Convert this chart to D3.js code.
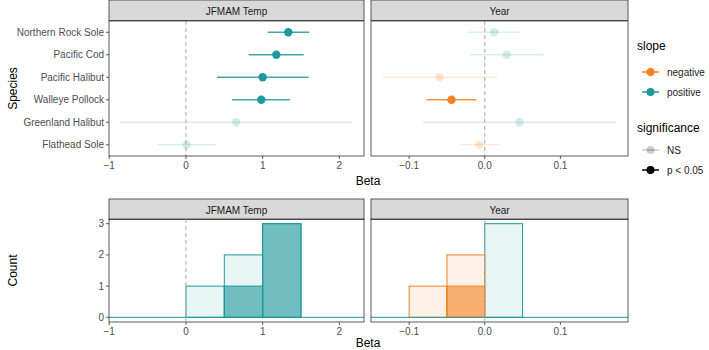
<!DOCTYPE html>
<html>
<head>
<meta charset="utf-8">
<script src="https://cdn.jsdelivr.net/npm/d3@7"></script>
<style>
  body { margin: 0; background: #fff; }
  text { font-family: "Liberation Sans", Arial, sans-serif; }
</style>
</head>
<body>
<div id="chart"></div>
<script>
// species order top to bottom
const species = ["Northern Rock Sole", "Pacific Cod", "Pacific Halibut", "Walleye Pollock", "Greenland Halibut", "Flathead Sole"];
const panels = ["JFMAM Temp", "Year"];

// JFMAM temperature effect
const tempBeta = [1.334, 1.178, 1.0, 0.982, 0.656, 0.01];
const tempLo = [1.065, 0.817, 0.404, 0.60, -0.852, -0.37];
const tempHi = [1.608, 1.535, 1.60, 1.36, 2.17, 0.39];
const tempSig = [true, true, true, true, false, false];

// Year effect
const yearBeta = [0.0125, 0.029, -0.0595, -0.044, 0.046, -0.0075];
const yearLo = [-0.022, -0.0195, -0.135, -0.077, -0.082, -0.033];
const yearHi = [0.047, 0.078, 0.017, -0.011, 0.174, 0.020];
const yearSig = [false, false, false, true, false, false];

const tempTicks = [-1, 0, 1, 2];
const yearTicks = [-0.1, 0, 0.1];
const countTicks = [0, 1, 2, 3];
const binWidths = [0.5, 0.05];

const slopeColor = { negative: "#f5821f", positive: "#1f999c" };

const width = 709, height = 350;
const panelX = [[109, 364], [371, 628]];
const topRow = { strip: 0, y0: 21, y1: 156 };
const botRow = { strip: 199, y0: 219, y1: 322 };

const svg = d3.select("#chart").append("svg")
  .attr("width", width).attr("height", height);

const sets = [
  { beta: tempBeta, lo: tempLo, hi: tempHi, sig: tempSig, ticks: tempTicks },
  { beta: yearBeta, lo: yearLo, hi: yearHi, sig: yearSig, ticks: yearTicks }
];

const fmt = (v, i) => {
  const s = i === 0 ? d3.format("d")(v) : d3.format(".1f")(v);
  return s.replace("-", "\u2212");
};

const y = d3.scalePoint().domain(species).range([topRow.y0, topRow.y1]).padding(0.5);
const yc = d3.scaleLinear().domain([-0.15, 3.15]).range([botRow.y1, botRow.y0]);

function strip(g, x0, x1, yTop, label) {
  g.append("rect").attr("x", x0).attr("y", yTop).attr("width", x1 - x0).attr("height", 20.5)
    .attr("fill", "#d9d9d9").attr("stroke", "#333").attr("stroke-width", 0.8);
  g.append("text").attr("x", (x0 + x1) / 2).attr("y", yTop + 14.5)
    .attr("text-anchor", "middle").attr("font-size", 10).attr("fill", "#1a1a1a").text(label);
}

function xAxis(g, x, ticks, yPos, i) {
  ticks.forEach(t => {
    g.append("line").attr("x1", x(t)).attr("x2", x(t)).attr("y1", yPos).attr("y2", yPos + 3)
      .attr("stroke", "#333").attr("stroke-width", 0.8);
    g.append("text").attr("x", x(t)).attr("y", yPos + 13).attr("text-anchor", "middle")
      .attr("font-size", 10).attr("fill", "#4d4d4d").text(fmt(t, i));
  });
}

sets.forEach((s, i) => {
  const [x0, x1] = panelX[i];
  const lo = d3.min(s.lo), hi = d3.max(s.hi);
  const pad = (hi - lo) * 0.05;
  const x = d3.scaleLinear().domain([lo - pad, hi + pad]).range([x0, x1]);

  // ---- top: coefficient plot ----
  const g = svg.append("g");
  strip(g, x0, x1, topRow.strip, panels[i]);
  g.append("line").attr("x1", x(0)).attr("x2", x(0)).attr("y1", topRow.y0).attr("y2", topRow.y1)
    .attr("stroke", "#aaa").attr("stroke-dasharray", "4,3");

  species.forEach((sp, k) => {
    const col = s.beta[k] < 0 ? slopeColor.negative : slopeColor.positive;
    const op = s.sig[k] ? 1 : 0.2;
    g.append("line").attr("x1", x(s.lo[k])).attr("x2", x(s.hi[k]))
      .attr("y1", y(sp)).attr("y2", y(sp))
      .attr("stroke", col).attr("stroke-width", 1.5).attr("stroke-opacity", op * 0.85);
    g.append("circle").attr("cx", x(s.beta[k])).attr("cy", y(sp)).attr("r", 4.2)
      .attr("fill", col).attr("fill-opacity", op);
  });

  g.append("rect").attr("x", x0).attr("y", topRow.y0).attr("width", x1 - x0).attr("height", topRow.y1 - topRow.y0)
    .attr("fill", "none").attr("stroke", "#333").attr("stroke-width", 0.8);
  xAxis(g, x, s.ticks, topRow.y1, i);

  if (i === 0) {
    species.forEach(sp => {
      g.append("line").attr("x1", x0 - 3).attr("x2", x0).attr("y1", y(sp)).attr("y2", y(sp))
        .attr("stroke", "#333").attr("stroke-width", 0.8);
      g.append("text").attr("x", x0 - 5).attr("y", y(sp) + 3.5).attr("text-anchor", "end")
        .attr("font-size", 10).attr("fill", "#4d4d4d").text(sp);
    });
  }

  // ---- bottom: histograms ----
  const h = svg.append("g");
  strip(h, x0, x1, botRow.strip, panels[i]);
  const bw = binWidths[i];

  const binsFor = (filterFn) => {
    const vals = s.beta.filter((v, k) => filterFn(k));
    const groups = d3.rollups(vals, v => v.length, v => Math.floor(v / bw + 1e-9));
    return groups.map(([b, n]) => ({ x0: b * bw, x1: (b + 1) * bw, n, neg: b < 0 }));
  };
  const allBins = binsFor(() => true);
  const sigBins = binsFor(k => s.sig[k]);

  [[allBins, 0.1], [sigBins, 0.6]].forEach(([bins, fo]) => {
    h.selectAll(null).data(bins).enter().append("rect")
      .attr("x", d => x(d.x0)).attr("width", d => x(d.x1) - x(d.x0))
      .attr("y", d => yc(d.n)).attr("height", d => yc(0) - yc(d.n))
      .attr("fill", d => d.neg ? slopeColor.negative : slopeColor.positive)
      .attr("fill-opacity", fo)
      .attr("stroke", d => d.neg ? slopeColor.negative : slopeColor.positive)
      .attr("stroke-width", 1);
  });

  h.append("line").attr("x1", x0).attr("x2", x1).attr("y1", yc(0)).attr("y2", yc(0))
    .attr("stroke", slopeColor.positive).attr("stroke-width", 1);

  // zero reference line sits on top of the bars here
  h.append("line").attr("x1", x(0)).attr("x2", x(0)).attr("y1", botRow.y0).attr("y2", botRow.y1)
    .attr("stroke", "#aaa").attr("stroke-dasharray", "4,3");

  h.append("rect").attr("x", x0).attr("y", botRow.y0).attr("width", x1 - x0).attr("height", botRow.y1 - botRow.y0)
    .attr("fill", "none").attr("stroke", "#333").attr("stroke-width", 0.8);
  xAxis(h, x, s.ticks, botRow.y1, i);

  if (i === 0) {
    countTicks.forEach(c => {
      h.append("line").attr("x1", x0 - 3).attr("x2", x0).attr("y1", yc(c)).attr("y2", yc(c))
        .attr("stroke", "#333").attr("stroke-width", 0.8);
      h.append("text").attr("x", x0 - 5).attr("y", yc(c) + 3.5).attr("text-anchor", "end")
        .attr("font-size", 10).attr("fill", "#4d4d4d").text(c);
    });
  }
});

// axis titles
svg.append("text").attr("x", 368).attr("y", 185).attr("text-anchor", "middle")
  .attr("font-size", 12).text("Beta");
svg.append("text").attr("x", 368).attr("y", 347).attr("text-anchor", "middle")
  .attr("font-size", 12).text("Beta");
svg.append("text").attr("transform", `translate(17,${(topRow.y0 + topRow.y1) / 2}) rotate(-90)`)
  .attr("text-anchor", "middle").attr("font-size", 12).text("Species");
svg.append("text").attr("transform", `translate(17,${(botRow.y0 + botRow.y1) / 2}) rotate(-90)`)
  .attr("text-anchor", "middle").attr("font-size", 12).text("Count");

// legend
const lg = svg.append("g").attr("transform", "translate(637,0)");
const legendKey = (yPos, col, op, label) => {
  lg.append("line").attr("x1", 5).attr("x2", 22).attr("y1", yPos).attr("y2", yPos)
    .attr("stroke", col).attr("stroke-width", 1.5).attr("stroke-opacity", op);
  lg.append("circle").attr("cx", 13.5).attr("cy", yPos).attr("r", 4).attr("fill", col).attr("fill-opacity", op);
  lg.append("text").attr("x", 30).attr("y", yPos + 3.5).attr("font-size", 10).attr("fill", "#1a1a1a").text(label);
};
lg.append("text").attr("x", 0).attr("y", 50).attr("font-size", 12).text("slope");
legendKey(72, slopeColor.negative, 1, "negative");
legendKey(92, slopeColor.positive, 1, "positive");
lg.append("text").attr("x", 0).attr("y", 132).attr("font-size", 12).text("significance");
legendKey(150, "#000", 0.2, "NS");
legendKey(170, "#000", 1, "p < 0.05");
</script>
</body>
</html>
